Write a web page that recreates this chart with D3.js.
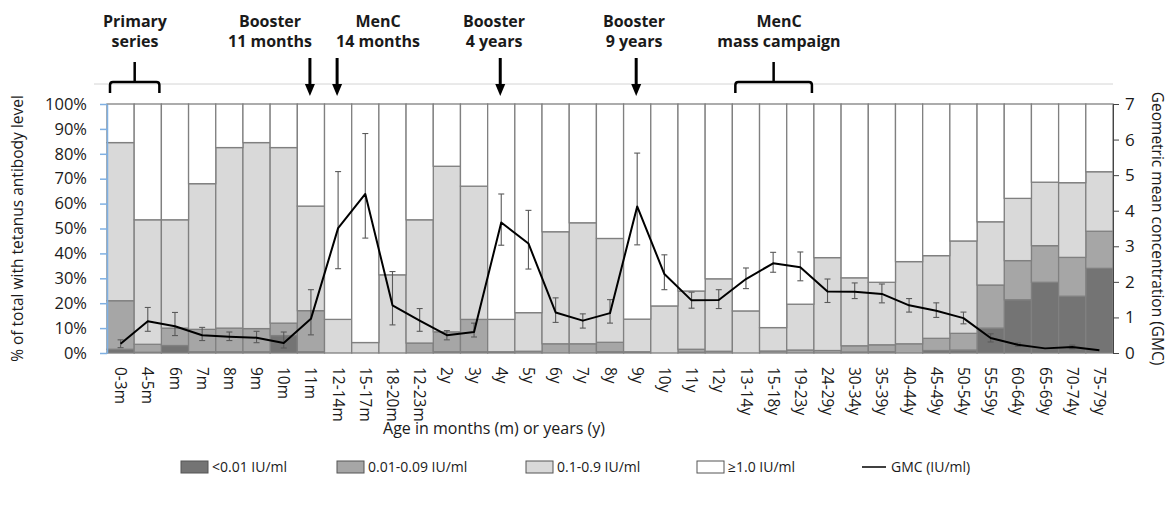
<!DOCTYPE html>
<html>
<head>
<meta charset="utf-8">
<script src="https://cdn.jsdelivr.net/npm/d3@7"></script>
<style>
  body { margin: 0; background: #fff; }
  text { font-family: "Open Sans", "Noto Sans", sans-serif; fill: #1a1a1a; }
</style>
</head>
<body>
<div id="chart"></div>
<script>
// age groups
const categories = ['0-3m','4-5m','6m','7m','8m','9m','10m','11m','12-14m','15-17m','18-20m','12-23m',
  '2y','3y','4y','5y','6y','7y','8y','9y','10y','11y','12y','13-14y','15-18y','19-23y',
  '24-29y','30-34y','35-39y','40-44y','45-49y','50-54y','55-59y','60-64y','65-69y','70-74y','75-79y'];

// % of total per antibody level
const below001 = [1.5,0.3,3.0,0.5,0.5,0.5,7.0,0.5,0,0,0,0,0.5,0.5,0,0,0,0,0.5,0,0,0.3,0,0,0,0,0,0.4,0.5,0,1.0,1.2,10.0,21.4,28.4,22.8,34.0];
const from001to009 = [19.5,3.2,7.0,9.0,9.5,9.3,5.0,16.5,0,0,0,4.0,8.0,13.0,0.5,0.7,3.7,3.7,3.8,0.5,0,1.2,0.7,0,0.8,1.2,1.0,2.5,2.8,3.7,4.9,6.7,17.3,15.7,14.7,15.6,14.9];
const from01to09 = [63.5,50.0,43.5,58.5,72.5,74.7,70.5,42.0,13.5,4.2,31.4,49.5,66.5,53.5,13.0,15.5,45.0,48.6,41.7,13.1,18.9,23.4,29.1,16.9,9.4,18.4,37.3,27.3,25.1,33.0,33.2,37.1,25.4,25.0,25.5,30.0,23.9];
const atLeast1 = [15.5,46.5,46.5,32.0,17.5,15.5,17.5,41.0,86.5,95.8,68.6,46.5,25.0,33.0,86.5,83.8,51.3,47.7,54.0,86.4,81.1,75.1,70.2,83.1,89.8,80.4,61.7,69.8,71.6,63.3,60.9,55.0,47.3,37.9,31.4,31.6,27.2];

// geometric mean concentration with error bar ends
const gmc = [0.26,0.89,0.75,0.50,0.46,0.43,0.28,0.96,3.51,4.47,1.34,0.91,0.50,0.59,3.67,3.08,1.14,0.91,1.12,4.12,2.22,1.48,1.49,2.08,2.52,2.41,1.73,1.72,1.66,1.34,1.19,0.98,0.42,0.23,0.13,0.17,0.08];
const gmcLow = [0.15,0.61,0.49,0.35,0.35,0.29,0.14,0.51,2.37,3.23,0.79,0.61,0.37,0.45,3.03,2.36,0.86,0.70,0.84,3.04,1.78,1.26,1.25,1.81,2.27,2.03,1.42,1.53,1.41,1.15,1.00,0.82,0.31,0.19,null,0.12,null];
const gmcHigh = [0.37,1.28,1.14,0.72,0.59,0.61,0.59,1.78,5.10,6.17,2.29,1.25,0.63,0.84,4.47,4.01,1.55,1.10,1.50,5.62,2.76,1.71,1.78,2.39,2.83,2.84,2.08,1.97,1.94,1.53,1.41,1.15,0.54,0.28,null,0.22,null];

const levelKeys = ['<0.01 IU/ml','0.01-0.09 IU/ml','0.1-0.9 IU/ml','\u22651.0 IU/ml'];
const levelColors = ['#747474','#a6a6a6','#d9d9d9','#ffffff'];

const arrowsAt = ['11m','12-14m','4y','9y'];
const braces = [['0-3m','4-5m'], ['13-14y','19-23y']];
const notes = [
  { lines: ['Primary','series'], cx: 135 },
  { lines: ['Booster','11 months'], cx: 270 },
  { lines: ['MenC','14 months'], cx: 378 },
  { lines: ['Booster','4 years'], cx: 494 },
  { lines: ['Booster','9 years'], cx: 634 },
  { lines: ['MenC','mass campaign'], cx: 779 }
];

const W = 1172, H = 506;
const margin = { top: 104, right: 59, bottom: 153, left: 107 };
const width = W - margin.left - margin.right;
const height = H - margin.top - margin.bottom;

const svg = d3.select('#chart').append('svg')
  .attr('width', W)
  .attr('height', H);

const g = svg.append('g')
  .attr('transform', `translate(${margin.left},${margin.top})`);

const x = d3.scaleBand().domain(categories).range([0, width]).padding(0);
const y = d3.scaleLinear().domain([0, 100]).range([height, 0]);
const y2 = d3.scaleLinear().domain([0, 7]).range([height, 0]);
const color = d3.scaleOrdinal().domain(levelKeys).range(levelColors);

const rows = categories.map((c, i) => ({
  cat: c,
  [levelKeys[0]]: below001[i],
  [levelKeys[1]]: from001to009[i],
  [levelKeys[2]]: from01to09[i],
  [levelKeys[3]]: atLeast1[i]
}));

const series = d3.stack().keys(levelKeys)(rows);

// top guide line
svg.append('line')
  .attr('x1', 94).attr('x2', margin.left + width)
  .attr('y1', 84).attr('y2', 84)
  .attr('stroke', '#d4d4d4').attr('stroke-width', 1);

g.selectAll('.layer')
  .data(series)
  .enter().append('g')
    .attr('class', 'layer')
    .attr('fill', d => color(d.key))
  .selectAll('rect')
  .data(d => d)
  .enter().append('rect')
    .attr('x', d => x(d.data.cat))
    .attr('y', d => y(d[1]))
    .attr('width', x.bandwidth())
    .attr('height', d => Math.max(0, y(d[0]) - y(d[1])))
    .attr('stroke', '#808080')
    .attr('stroke-width', 1.3);

// left axis
const yAxisG = g.append('g')
  .call(d3.axisLeft(y).tickValues(d3.range(0, 101, 10)).tickFormat(d => d + '%').tickSize(7).tickSizeOuter(0));
yAxisG.select('.domain').attr('stroke', '#7fb0e3').attr('stroke-width', 1.5);
yAxisG.selectAll('.tick line').attr('stroke', '#7fb0e3').attr('stroke-width', 1.5);
yAxisG.selectAll('.tick text').attr('x', -20).style('font-size', '16.5px').style('fill', '#1a1a1a');

// right axis
const y2AxisG = g.append('g')
  .attr('transform', `translate(${width},0)`)
  .call(d3.axisRight(y2).ticks(7).tickSize(6).tickSizeOuter(0));
y2AxisG.select('.domain').attr('stroke', '#444');
y2AxisG.selectAll('.tick line').attr('stroke', '#444');
y2AxisG.selectAll('.tick text').attr('x', 12).style('font-size', '17px').style('fill', '#1a1a1a');

// x labels
g.append('g')
  .selectAll('text')
  .data(categories)
  .enter().append('text')
    .attr('transform', d => `translate(${x(d) + x.bandwidth() / 2},${height + 14}) rotate(90)`)
    .attr('dy', '0.35em')
    .style('font-size', '15.5px')
    .text(d => d);

// error bars
const cx = c => x(c) + x.bandwidth() / 2;
const errs = categories.map((c, i) => ({ c, lo: gmcLow[i], hi: gmcHigh[i] })).filter(d => d.lo !== null);
const errG = g.append('g').attr('stroke', '#5a5a5a').attr('stroke-width', 1.1);
errs.forEach(d => {
  errG.append('line').attr('x1', cx(d.c)).attr('x2', cx(d.c)).attr('y1', y2(d.lo)).attr('y2', y2(d.hi));
  errG.append('line').attr('x1', cx(d.c) - 3).attr('x2', cx(d.c) + 3).attr('y1', y2(d.lo)).attr('y2', y2(d.lo));
  errG.append('line').attr('x1', cx(d.c) - 3).attr('x2', cx(d.c) + 3).attr('y1', y2(d.hi)).attr('y2', y2(d.hi));
});

// GMC line
g.append('path')
  .datum(categories.map((c, i) => [c, gmc[i]]))
  .attr('fill', 'none')
  .attr('stroke', '#000')
  .attr('stroke-width', 2)
  .attr('stroke-linejoin', 'round')
  .attr('d', d3.line().x(d => cx(d[0])).y(d => y2(d[1])));

// axis titles
svg.append('text')
  .attr('transform', `translate(23,${margin.top + height / 2}) rotate(-90)`)
  .attr('text-anchor', 'middle')
  .style('font-size', '15.5px')
  .text('% of total with tetanus antibody level');

svg.append('text')
  .attr('transform', `translate(1152,${margin.top + height / 2}) rotate(90)`)
  .attr('text-anchor', 'middle')
  .style('font-size', '15.5px')
  .text('Geometric mean concentration (GMC)');

svg.append('text')
  .attr('x', 494).attr('y', 434)
  .attr('text-anchor', 'middle')
  .style('font-size', '16px')
  .text('Age in months (m) or years (y)');

// annotations
notes.forEach(n => {
  n.lines.forEach((t, k) => {
    svg.append('text')
      .attr('x', n.cx).attr('y', 27 + k * 20)
      .attr('text-anchor', 'middle')
      .style('font-size', '16px')
      .style('font-weight', 'bold')
      .text(t);
  });
});

arrowsAt.forEach(c => {
  const ax = margin.left + cx(c) - 1;
  svg.append('line')
    .attr('x1', ax).attr('x2', ax).attr('y1', 58).attr('y2', 86)
    .attr('stroke', '#000').attr('stroke-width', 3);
  svg.append('path')
    .attr('d', `M${ax - 5},84 L${ax + 5},84 L${ax},96 Z`)
    .attr('fill', '#000');
});

braces.forEach(([a, b]) => {
  const x1 = margin.left + x(a) + 3;
  const x2 = margin.left + x(b) + x.bandwidth() - 2;
  const m = (x1 + x2) / 2;
  svg.append('path')
    .attr('d', `M${x1},93 L${x1},85 Q${x1},82 ${x1 + 3},82 L${x2 - 3},82 Q${x2},82 ${x2},85 L${x2},93 M${m},82 L${m},62`)
    .attr('fill', 'none')
    .attr('stroke', '#000')
    .attr('stroke-width', 2.5);
});

// legend
const legendX = [181, 337, 526, 697];
levelKeys.forEach((k, i) => {
  svg.append('rect')
    .attr('x', legendX[i]).attr('y', 461)
    .attr('width', 27).attr('height', 12)
    .attr('fill', color(k))
    .attr('stroke', '#555').attr('stroke-width', 1);
  svg.append('text')
    .attr('x', legendX[i] + 31).attr('y', 467)
    .attr('dy', '0.35em')
    .style('font-size', '14px')
    .text(k);
});
svg.append('line')
  .attr('x1', 862).attr('x2', 886).attr('y1', 467).attr('y2', 467)
  .attr('stroke', '#000').attr('stroke-width', 1.5);
svg.append('text')
  .attr('x', 891).attr('y', 467)
  .attr('dy', '0.35em')
  .style('font-size', '14px')
  .text('GMC (IU/ml)');
</script>
</body>
</html>
